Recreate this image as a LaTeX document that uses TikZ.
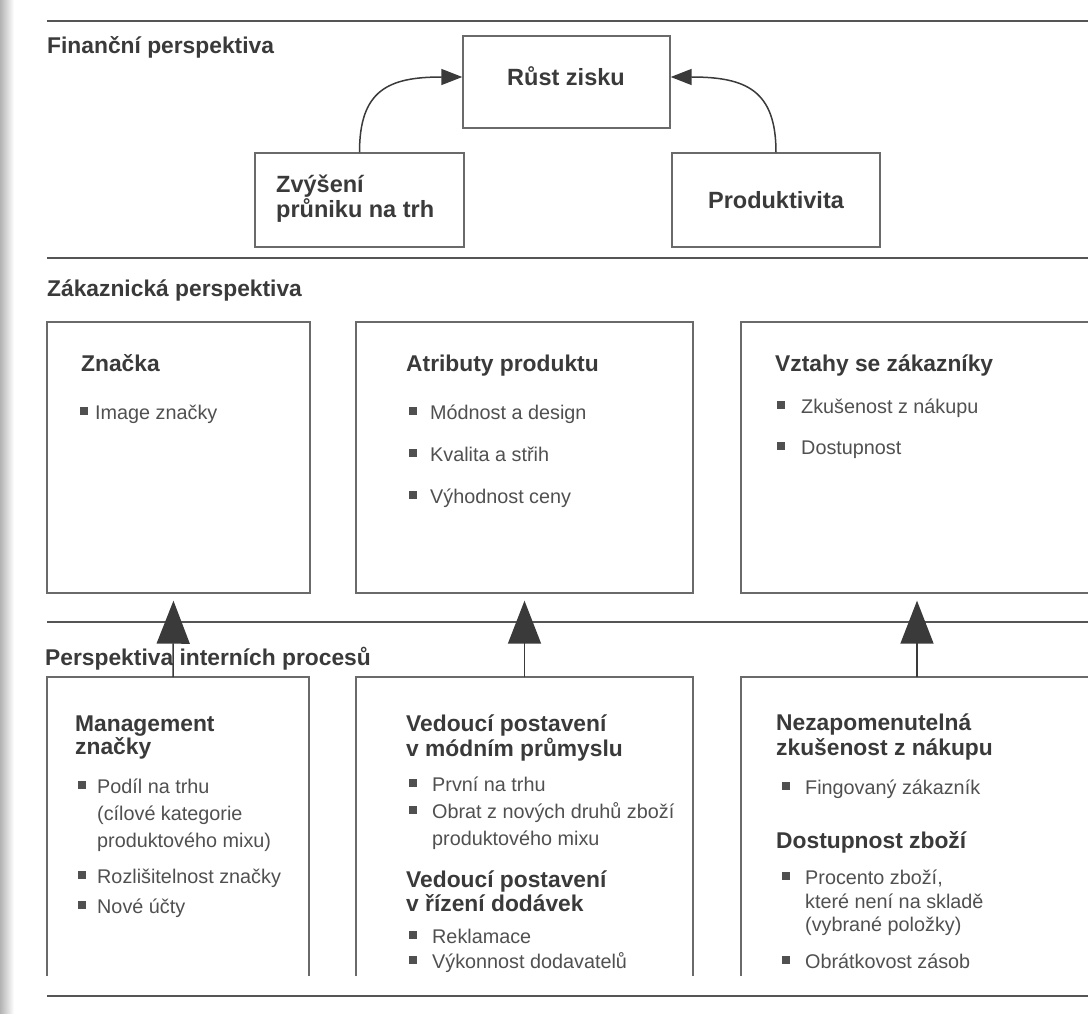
\documentclass[tikz,border=0pt]{standalone}
\usepackage{fontspec}
\setmainfont{Liberation Sans}
\usetikzlibrary{arrows.meta}

\definecolor{ink}{HTML}{3A3A3A}
\definecolor{bodyink}{HTML}{505050}
\definecolor{rulegray}{HTML}{555555}
\definecolor{framegray}{HTML}{6A6A6A}

\tikzset{
  sectitle/.style={anchor=base west, inner sep=0pt, text=ink,
    font=\bfseries\fontsize{22.8}{26}\selectfont},
  fintext/.style={inner sep=0pt, text=ink,
    font=\bfseries\fontsize{23.5}{27}\selectfont},
  head/.style={anchor=base west, inner sep=0pt, text=ink,
    font=\bfseries\fontsize{22.8}{26}\selectfont},
  item/.style={anchor=base west, inner sep=0pt, text=bodyink,
    font=\fontsize{19.8}{24}\selectfont},
  bul/.style={fill=bodyink, minimum size=7.5pt, inner sep=0pt, outer sep=0pt},
  plainbox/.style={draw=framegray, line width=1.4pt, inner sep=0pt},
  openbox/.style={inner sep=0pt, outer sep=0pt},
  sectionrule/.style={draw=rulegray, line width=2pt},
  curvedlink/.style={draw=ink, line width=1.5pt,
    -{Triangle[length=21pt,width=16pt]}},
  uparrow/.style={draw=ink, line width=1.5pt, fill=ink,
    -{Triangle[length=43pt,width=33pt]}},
}

\begin{document}
\begin{tikzpicture}[x=1pt,y=-1pt]
\useasboundingbox (0,0) rectangle (1088,1014);
\fill[white] (0,0) rectangle (1088,1014);
% shadow along the gutter
\shade[left color=black!30, right color=white] (0,0) rectangle (14,1014);

% horizontal rules between the perspectives
\draw[sectionrule] (47,21) -- (1095,21);
\draw[sectionrule] (47,258) -- (1095,258);
\draw[sectionrule] (47,622) -- (1095,622);
\draw[sectionrule] (47,996) -- (1095,996);

% ---------------- financial perspective ----------------
\node[sectitle] (tfin) at (47,54) {Finanční perspektiva};

\node[plainbox, minimum width=207pt, minimum height=92pt] (rust) at (566.5,82) {};
\node[fintext, anchor=base] (rustT) at (566,86) {Růst zisku};

\node[plainbox, minimum width=209pt, minimum height=94pt] (zvys) at (359.5,200) {};
\node[fintext, anchor=base west] (zvysA) at (276,193) {Zvýšení};
\node[fintext, anchor=base west] (zvysB) at (276,218) {průniku na trh};

\node[plainbox, minimum width=208pt, minimum height=94pt] (prod) at (776,200) {};
\node[fintext, anchor=base] (prodT) at (776,209) {Produktivita};

\draw[curvedlink] (zvys.north) .. controls ([yshift=62pt]zvys.north) and (388,77) .. ([yshift=5pt]rust.west);
\draw[curvedlink] (prod.north) .. controls ([yshift=62pt]prod.north) and (746,77) .. ([yshift=5pt]rust.east);

% ---------------- customer perspective ----------------
\node[sectitle] (tcus) at (47,296) {Zákaznická perspektiva};

\node[plainbox, minimum width=263pt, minimum height=271pt] (cb1) at (178.5,457.5) {};
\node[plainbox, minimum width=337pt, minimum height=271pt] (cb2) at (524.5,457.5) {};
\node[plainbox, minimum width=352pt, minimum height=271pt] (cb3) at (917,457.5) {};

\node[head] (c1h) at (81,371) {Značka};
\node[bul] (c1b1) at (84,411) {};
\node[item] (c1i1) at (95,419) {Image značky};

\node[head] (c2h) at (406,371) {Atributy produktu};
\node[bul] (c2b1) at (413,411) {};
\node[item] (c2i1) at (430,419) {Módnost a design};
\node[bul] (c2b2) at (413,453) {};
\node[item] (c2i2) at (430,461) {Kvalita a střih};
\node[bul] (c2b3) at (413,495) {};
\node[item] (c2i3) at (430,503) {Výhodnost ceny};

\node[head] (c3h) at (775,371) {Vztahy se zákazníky};
\node[bul] (c3b1) at (781,405) {};
\node[item] (c3i1) at (801,413) {Zkušenost z nákupu};
\node[bul] (c3b2) at (781,446) {};
\node[item] (c3i2) at (801,454) {Dostupnost};

% ---------------- internal process perspective ----------------
\node[sectitle] (tint) at (45,665) {Perspektiva interních procesů};

\node[openbox, minimum width=262pt, minimum height=299pt] (pb1) at (178,826.5) {};
\node[openbox, minimum width=337pt, minimum height=299pt] (pb2) at (524.5,826.5) {};
\node[openbox, minimum width=352pt, minimum height=299pt] (pb3) at (917,826.5) {};
\foreach \b in {pb1,pb2,pb3}
  \draw[draw=framegray, line width=1.4pt]
    (\b.south west) -- (\b.north west) -- (\b.north east) -- (\b.south east);

% arrows from processes up to the customer boxes
\draw[uparrow, shorten >=7pt] ([xshift=-5pt]pb1.north) -- ([xshift=-5pt]cb1.south);
\draw[uparrow, shorten >=7pt] (pb2.north) -- (cb2.south);
\draw[uparrow, shorten >=7pt] (pb3.north) -- (cb3.south);

% box 1
\node[head] (p1h1) at (75,731) {Management};
\node[head] (p1h2) at (75,754) {značky};
\node[bul] (p1b1) at (82,785) {};
\node[item] (p1i1) at (97,793) {Podíl na trhu};
\node[item] (p1i2) at (97,820) {(cílové kategorie};
\node[item] (p1i3) at (97,847) {produktového mixu)};
\node[bul] (p1b2) at (82,875) {};
\node[item] (p1i4) at (97,883) {Rozlišitelnost značky};
\node[bul] (p1b3) at (82,905) {};
\node[item] (p1i5) at (97,913) {Nové účty};

% box 2
\node[head] (p2h1) at (406,731) {Vedoucí postavení};
\node[head] (p2h2) at (406,756) {v módním průmyslu};
\node[bul] (p2b1) at (413,783) {};
\node[item] (p2i1) at (432,791) {První na trhu};
\node[bul] (p2b2) at (413,810) {};
\node[item] (p2i2) at (432,818) {Obrat z nových druhů zboží};
\node[item] (p2i3) at (432,845) {produktového mixu};
\node[head] (p2h3) at (406,887) {Vedoucí postavení};
\node[head] (p2h4) at (406,911) {v řízení dodávek};
\node[bul] (p2b3) at (413,935) {};
\node[item] (p2i4) at (432,943) {Reklamace};
\node[bul] (p2b4) at (413,960) {};
\node[item] (p2i5) at (432,968) {Výkonnost dodavatelů};

% box 3
\node[head] (p3h1) at (776,730) {Nezapomenutelná};
\node[head] (p3h2) at (776,755) {zkušenost z nákupu};
\node[bul] (p3b1) at (786,786) {};
\node[item] (p3i1) at (805,794) {Fingovaný zákazník};
\node[head] (p3h3) at (776,848) {Dostupnost zboží};
\node[bul] (p3b2) at (786,876) {};
\node[item] (p3i2) at (805,884) {Procento zboží,};
\node[item] (p3i3) at (805,908) {které není na skladě};
\node[item] (p3i4) at (805,931) {(vybrané položky)};
\node[bul] (p3b3) at (786,960) {};
\node[item] (p3i5) at (805,968) {Obrátkovost zásob};
\end{tikzpicture}
\end{document}
